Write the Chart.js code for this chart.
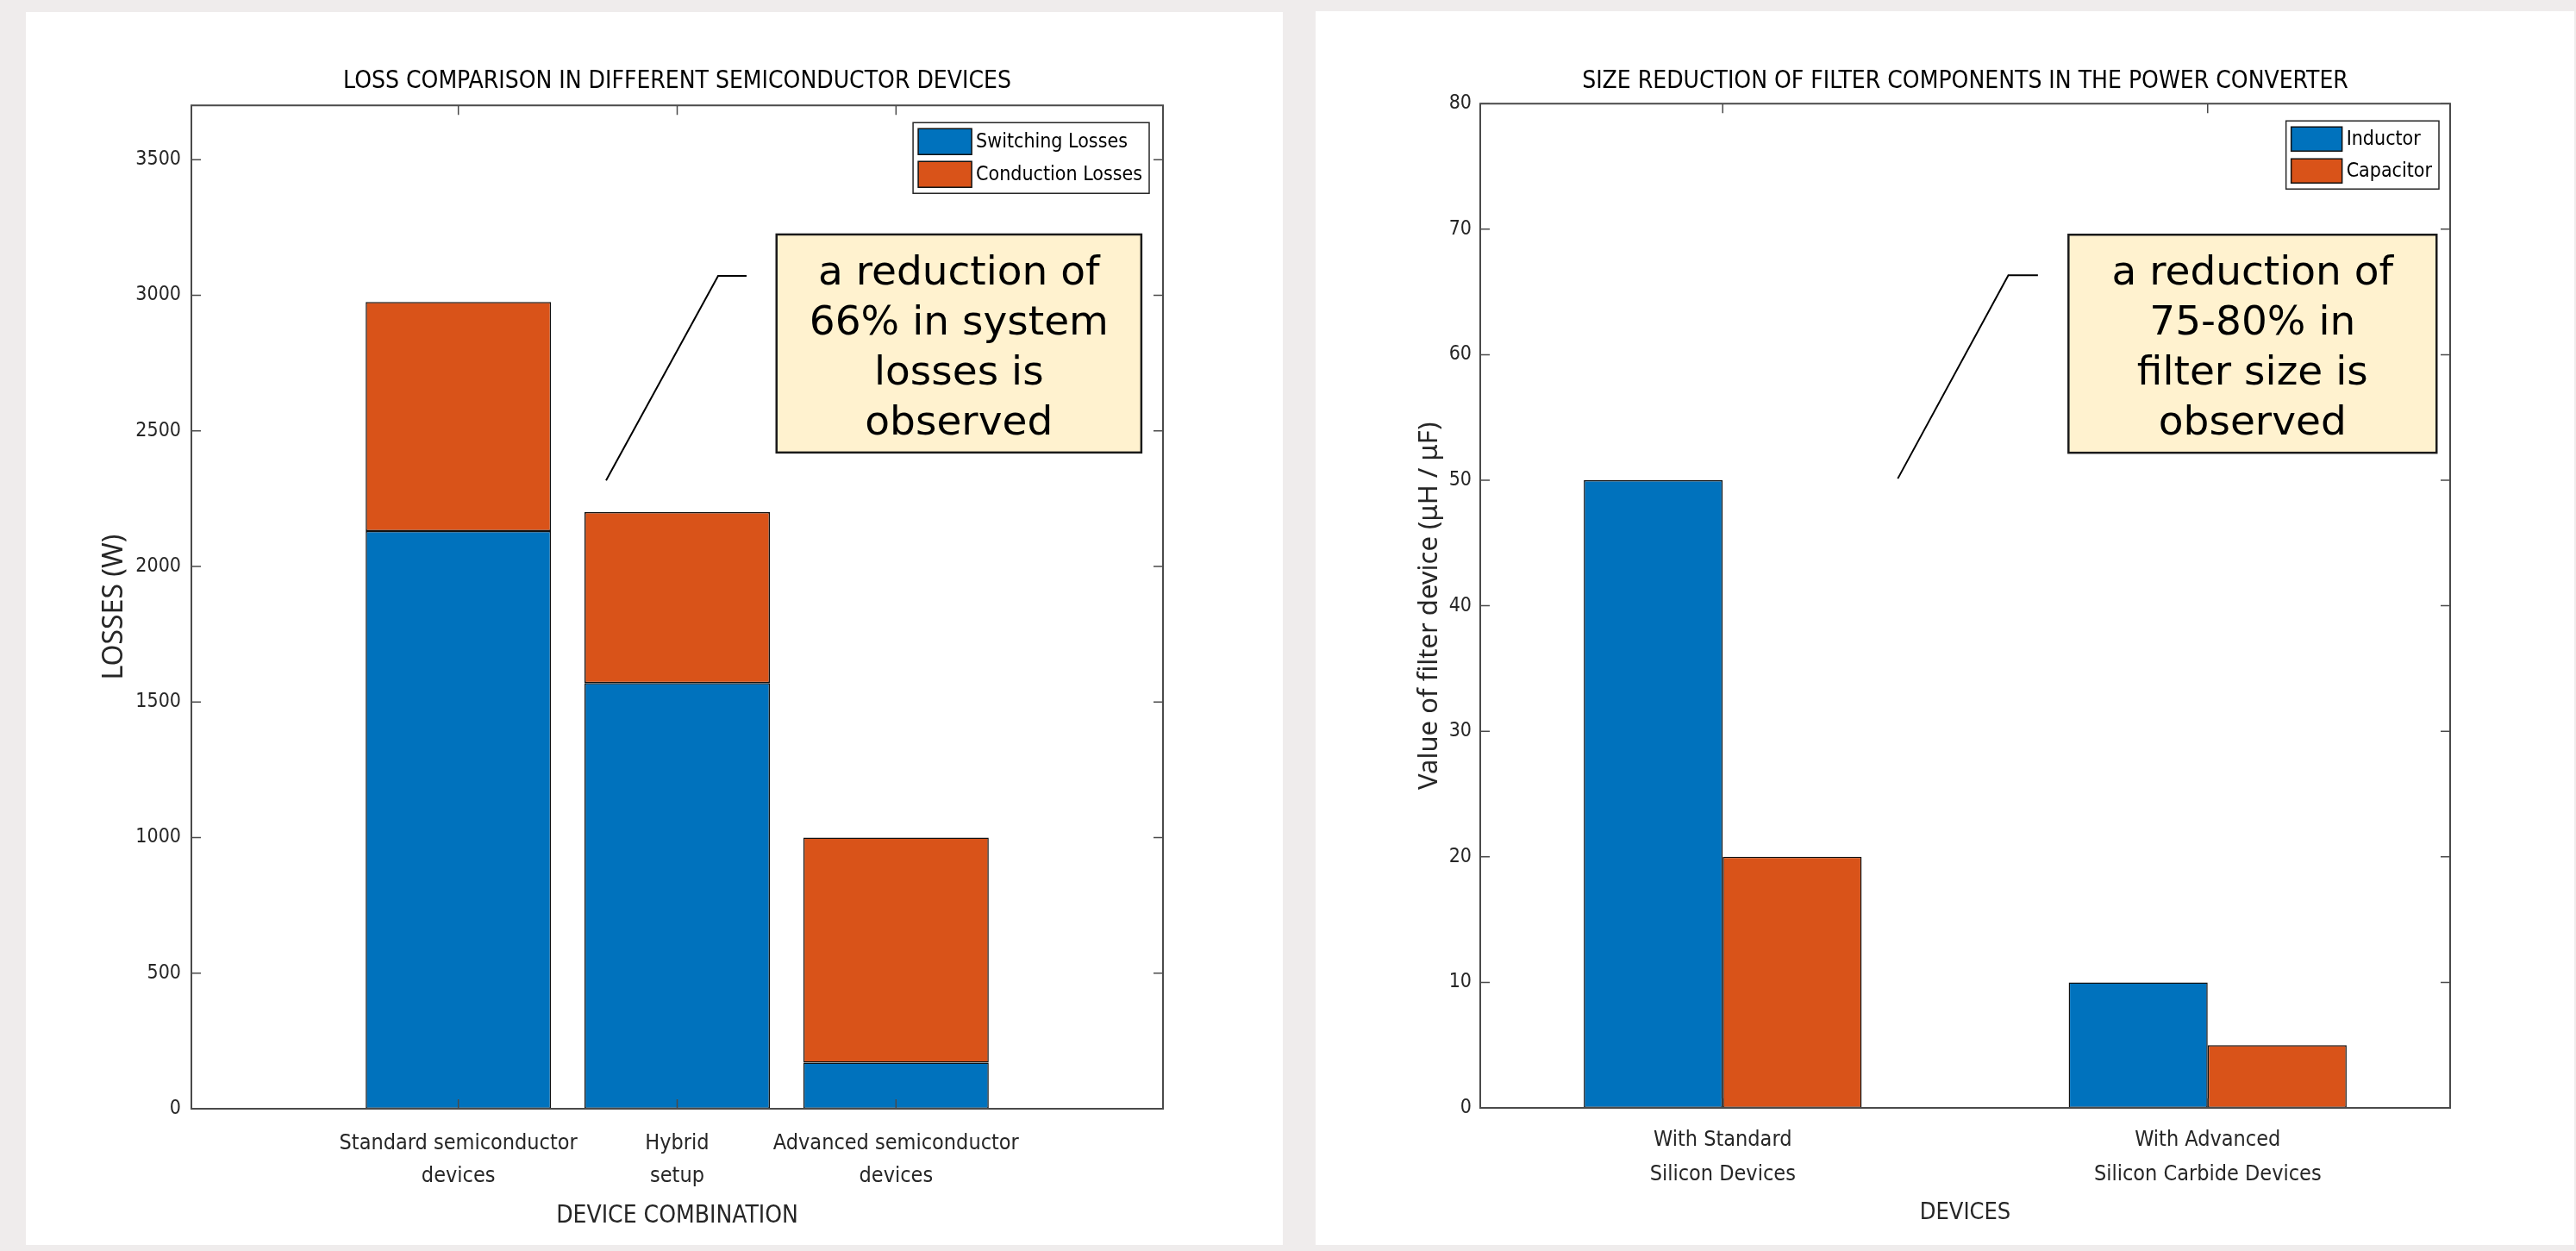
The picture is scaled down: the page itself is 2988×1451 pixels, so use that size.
<!DOCTYPE html>
<html lang="en">
<head>
<meta charset="UTF-8">
<title>Losses and filter size</title>
<script src="https://cdn.jsdelivr.net/npm/chart.js"></script>
<style>
  html, body { margin: 0; padding: 0; background: #efecec; }
  body { width: 2988px; height: 1451px; position: relative; overflow: hidden; }
  .panel { position: absolute; background: #fff; }
  #panelLoss { left: 30px; top: 14px; width: 1458px; height: 1430px; }
  #panelFilter { left: 1526px; top: 13px; width: 1460px; height: 1431px; }
  canvas { display: block; }
</style>
</head>
<body>
<div class="panel" id="panelLoss"><canvas id="lossChart" width="1458" height="1430"></canvas></div>
<div class="panel" id="panelFilter"><canvas id="filterChart" width="1460" height="1431"></canvas></div>

<script>
// left chart: stacked losses
const lossCategories = [['Standard semiconductor', 'devices'], ['Hybrid', 'setup'], ['Advanced semiconductor', 'devices']];
const switchingLosses = [2130, 1570, 170];
const conductionLosses = [845, 630, 830];
const lossTicks = [0, 500, 1000, 1500, 2000, 2500, 3000, 3500];

// right chart: grouped filter values
const filterCategories = [['With Standard', 'Silicon Devices'], ['With Advanced', 'Silicon Carbide Devices']];
const inductorValues = [50, 10];
const capacitorValues = [20, 5];
const filterTicks = [0, 10, 20, 30, 40, 50, 60, 70, 80];

const BLUE = '#0072bd';
const ORANGE = '#d95319';
const EDGE = '#111';
const TICK = '#262626';
const AXIS = '#4a4a4a';
const NARROW = "'Liberation Sans Narrow', 'DejaVu Sans Condensed', 'Arial Narrow', sans-serif";
const PLAIN = "'Noto Sans', 'Open Sans', sans-serif";
const NOTE = "'DejaVu Sans', sans-serif";

// box round the axes with inward ticks on all four sides (matlab style)
const frame = {
  id: 'frame',
  afterDatasetsDraw(chart) {
    const { ctx, chartArea: a, scales: { x, y } } = chart;
    const len = 11;
    ctx.save();
    ctx.strokeStyle = AXIS;
    ctx.lineWidth = 1.5;
    ctx.beginPath();
    y.ticks.forEach(t => {
      const py = y.getPixelForValue(t.value);
      ctx.moveTo(a.left, py); ctx.lineTo(a.left + len, py);
      ctx.moveTo(a.right, py); ctx.lineTo(a.right - len, py);
    });
    x.ticks.forEach((t, i) => {
      const px = x.getPixelForTick(i);
      ctx.moveTo(px, a.top); ctx.lineTo(px, a.top + len);
      ctx.moveTo(px, a.bottom); ctx.lineTo(px, a.bottom - len);
    });
    ctx.stroke();
    ctx.lineWidth = 2;
    ctx.strokeRect(a.left, a.top, a.right - a.left, a.bottom - a.top);
    ctx.restore();
  }
};

// legend inside the plot, top right, with a frame
const boxLegend = {
  id: 'boxLegend',
  afterDraw(chart, args, o) {
    const { ctx, chartArea: a } = chart;
    const sets = chart.data.datasets;
    ctx.save();
    ctx.font = `${o.size}px ${NARROW}`;
    const textW = Math.max(...sets.map(d => ctx.measureText(d.label).width));
    const textX = 6 + o.swatchW + 5;
    const w = Math.max(o.width, textX + textW + 8);
    const h = 7 + sets.length * o.row + 7 - (o.row - o.swatchH);
    const left = a.right - o.inset - w;
    const top = a.top + 20;
    ctx.fillStyle = '#fff';
    ctx.fillRect(left, top, w, h);
    ctx.strokeStyle = TICK;
    ctx.lineWidth = 1.5;
    ctx.strokeRect(left, top, w, h);
    sets.forEach((d, i) => {
      const sy = top + 7 + i * o.row;
      ctx.fillStyle = d.backgroundColor;
      ctx.fillRect(left + 6, sy, o.swatchW, o.swatchH);
      ctx.strokeStyle = EDGE;
      ctx.strokeRect(left + 6, sy, o.swatchW, o.swatchH);
      ctx.fillStyle = '#000';
      ctx.textBaseline = 'middle';
      ctx.fillText(d.label, left + textX, sy + o.swatchH / 2 + 1);
    });
    ctx.restore();
  }
};

// text box with a leader line, anchored in data units
const callout = {
  id: 'callout',
  afterDraw(chart, args, o) {
    const { ctx, scales: { x, y } } = chart;
    const px = v => x.getPixelForValue(v);
    const py = v => y.getPixelForValue(v);
    ctx.save();
    ctx.strokeStyle = '#000';
    ctx.lineWidth = 2;
    ctx.beginPath();
    o.leader.forEach(([vx, vy], i) => i ? ctx.lineTo(px(vx), py(vy)) : ctx.moveTo(px(vx), py(vy)));
    ctx.stroke();
    const x0 = px(o.boxX[0]), x1 = px(o.boxX[1]);
    const y0 = py(o.boxY[1]), y1 = py(o.boxY[0]);
    ctx.fillStyle = '#fff2cf';
    ctx.fillRect(x0, y0, x1 - x0, y1 - y0);
    ctx.lineWidth = 2.5;
    ctx.strokeStyle = '#1a1a1a';
    ctx.strokeRect(x0, y0, x1 - x0, y1 - y0);
    ctx.fillStyle = '#000';
    ctx.font = `47px ${NOTE}`;
    ctx.textAlign = 'center';
    ctx.textBaseline = 'alphabetic';
    const cx = (x0 + x1) / 2, cy = (y0 + y1) / 2;
    o.lines.forEach((t, i) => {
      ctx.fillText(t, cx, cy + (i - (o.lines.length - 1) / 2) * 58 + 18.5);
    });
    ctx.restore();
  }
};

function barStyle(color) {
  return { backgroundColor: color, borderColor: EDGE, borderWidth: 1.5, borderSkipped: false };
}

new Chart(document.getElementById('lossChart'), {
  type: 'bar',
  data: {
    datasets: [
      { label: 'Switching Losses', data: switchingLosses.map((v, i) => ({ x: i + 1, y: v })),
        ...barStyle(BLUE), barPercentage: 0.847, categoryPercentage: 1 },
      { label: 'Conduction Losses', data: conductionLosses.map((v, i) => ({ x: i + 1, y: v })),
        ...barStyle(ORANGE), barPercentage: 0.847, categoryPercentage: 1 }
    ]
  },
  options: {
    responsive: false,
    animation: false,
    devicePixelRatio: 1,
    layout: { padding: { top: 62, right: 139, bottom: 0, left: 0 } },
    plugins: {
      legend: { display: false },
      tooltip: { enabled: false },
      title: {
        display: true,
        fullSize: false,
        text: 'LOSS COMPARISON IN DIFFERENT SEMICONDUCTOR DEVICES',
        color: '#000',
        font: { family: NARROW, size: 28, weight: 'normal', lineHeight: 1.33 },
        padding: { top: 0, bottom: 9 }
      },
      boxLegend: { size: 23, swatchW: 62, swatchH: 30, row: 38, width: 264, inset: 16 },
      callout: {
        leader: [[1.675, 2317], [2.187, 3071], [2.317, 3071]],
        boxX: [2.454, 4.121], boxY: [2420, 3224],
        lines: ['a reduction of', '66% in system', 'losses is', 'observed']
      }
    },
    scales: {
      x: {
        type: 'linear',
        stacked: true,
        min: -0.22,
        max: 4.22,
        offset: false,
        afterBuildTicks: s => { s.ticks = lossCategories.map((c, i) => ({ value: i + 1 })); },
        afterFit: s => { s.height = 158; },
        grid: { display: false, drawTicks: false, offset: false },
        border: { display: false },
        ticks: {
          autoSkip: false, maxRotation: 0, padding: 22, color: TICK,
          font: { family: NARROW, size: 25, lineHeight: 1.5 },
          callback: v => lossCategories[v - 1]
        },
        title: {
          display: true, text: 'DEVICE COMBINATION', color: TICK,
          font: { family: NARROW, size: 28, lineHeight: 1.2 },
          padding: { top: 0, bottom: 16 }
        }
      },
      y: {
        stacked: true,
        min: 0,
        max: 3700,
        afterBuildTicks: s => { s.ticks = lossTicks.map(v => ({ value: v })); },
        afterFit: s => { s.width = 192; },
        grid: { display: false, drawTicks: false },
        border: { display: false },
        ticks: { padding: 12, color: TICK, font: { family: NARROW, size: 23 }, callback: v => String(v) },
        title: {
          display: true, text: 'LOSSES (W)', color: TICK,
          font: { family: PLAIN, size: 32, lineHeight: 1.2 },
          padding: { top: 84, bottom: 0 }
        }
      }
    }
  },
  plugins: [frame, boxLegend, callout]
});

new Chart(document.getElementById('filterChart'), {
  type: 'bar',
  data: {
    labels: filterCategories,
    datasets: [
      { label: 'Inductor', data: inductorValues, ...barStyle(BLUE), barPercentage: 1, categoryPercentage: 0.573 },
      { label: 'Capacitor', data: capacitorValues, ...barStyle(ORANGE), barPercentage: 1, categoryPercentage: 0.573 }
    ]
  },
  options: {
    responsive: false,
    animation: false,
    devicePixelRatio: 1,
    layout: { padding: { top: 63, right: 144, bottom: 0, left: 0 } },
    plugins: {
      legend: { display: false },
      tooltip: { enabled: false },
      title: {
        display: true,
        fullSize: false,
        text: 'SIZE REDUCTION OF FILTER COMPONENTS IN THE POWER CONVERTER',
        color: '#000',
        font: { family: NARROW, size: 28, weight: 'normal', lineHeight: 1.33 },
        padding: { top: 0, bottom: 7 }
      },
      boxLegend: { size: 23, swatchW: 59, swatchH: 28, row: 37, width: 165, inset: 13 },
      callout: {
        leader: [[0.361, 50.13], [0.589, 66.33], [0.650, 66.33]],
        boxX: [0.713, 1.472], boxY: [52.19, 69.56],
        lines: ['a reduction of', '75-80% in', 'filter size is', 'observed']
      }
    },
    scales: {
      x: {
        afterFit: s => { s.height = 159; },
        grid: { display: false, drawTicks: false },
        border: { display: false },
        ticks: {
          autoSkip: false, maxRotation: 0, padding: 17, color: TICK,
          font: { family: NARROW, size: 25, lineHeight: 1.6 }
        },
        title: {
          display: true, text: 'DEVICES', color: TICK,
          font: { family: NARROW, size: 27, lineHeight: 1.2 },
          padding: { top: 0, bottom: 21 }
        }
      },
      y: {
        min: 0,
        max: 80,
        afterBuildTicks: s => { s.ticks = filterTicks.map(v => ({ value: v })); },
        afterFit: s => { s.width = 191; },
        grid: { display: false, drawTicks: false },
        border: { display: false },
        ticks: { padding: 10, color: TICK, font: { family: NARROW, size: 23 }, callback: v => String(v) },
        title: {
          display: true, text: 'Value of filter device (μH / μF)', color: TICK,
          font: { family: PLAIN, size: 31, lineHeight: 1.2 },
          padding: { top: 114, bottom: 0 }
        }
      }
    }
  },
  plugins: [frame, boxLegend, callout]
});
</script>
</body>
</html>
